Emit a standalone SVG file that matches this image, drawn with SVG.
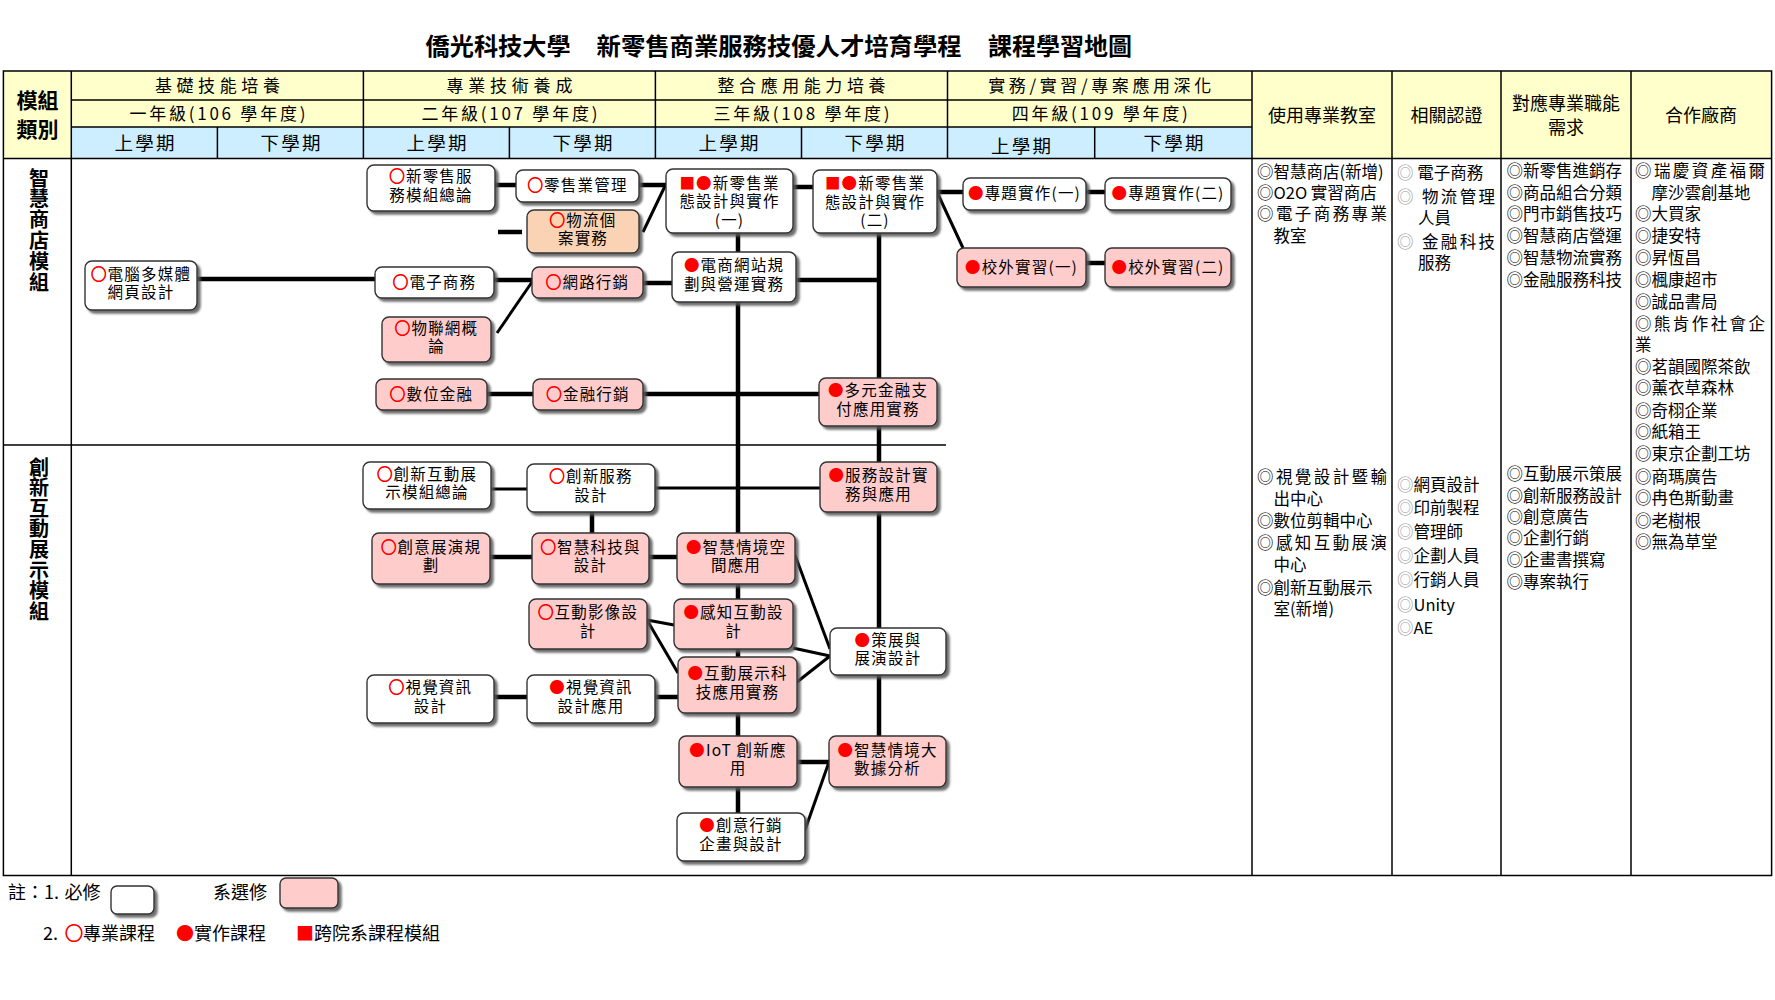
<svg xmlns="http://www.w3.org/2000/svg" width="1775" height="1000" viewBox="0 0 1775 1000">
<defs>
<style>
text{font-family:"Noto Sans CJK TC","Noto Sans CJK SC",sans-serif;fill:#000}
.ttl{font-size:24px;font-weight:bold}
.hd{font-size:17px;text-anchor:middle}
.sm{font-size:18.5px;text-anchor:middle}
.rh{font-size:18px;text-anchor:middle}
.mod{font-size:21px;font-weight:bold;text-anchor:middle}
.vt{font-size:20px;font-weight:bold;writing-mode:vertical-rl}
.rc{font-size:16.5px}
.g{fill:#9a9a9a}
.nt{font-size:15.5px;letter-spacing:1.2px;text-anchor:middle}
.r{fill:#ff0000}
.o{fill:#ff0000;stroke:#ff0000;stroke-width:0.8}
.box{stroke:#333;stroke-width:1.4;filter:url(#sh)}
.w{fill:#fff}
.p{fill:#ffcccc}
.pe{fill:#f9d3b3}
.tl{stroke:#000;stroke-width:1.5;fill:none}
.c{stroke:#000;stroke-width:4.5;fill:none}
.d{stroke:#000;stroke-width:3;fill:none}
.lg{font-size:18px}
</style>
<filter id="sh" x="-10%" y="-10%" width="130%" height="140%">
<feDropShadow dx="3" dy="3" stdDeviation="0.8" flood-color="#555" flood-opacity="0.85"/>
</filter>
</defs>
<rect width="1775" height="1000" fill="#fff"/>

<g id="title">
<text class="ttl" x="425.6" y="55" textLength="145" lengthAdjust="spacingAndGlyphs">僑光科技大學</text>
<text class="ttl" x="596.6" y="55" textLength="365" lengthAdjust="spacingAndGlyphs">新零售商業服務技優人才培育學程</text>
<text class="ttl" x="988" y="55" textLength="144" lengthAdjust="spacingAndGlyphs">課程學習地圖</text>
</g>

<g id="table">
<rect x="3.4" y="71" width="1768.2" height="87.5" fill="#ffffcc"/>
<rect x="71.3" y="127" width="1180.7" height="31.5" fill="#cceeff"/>
<rect class="tl" x="3.4" y="71" width="1768.2" height="804.5"/>
<line class="tl" x1="71.3" y1="100" x2="1252" y2="100"/>
<line class="tl" x1="71.3" y1="127" x2="1252" y2="127"/>
<line class="tl" x1="3.4" y1="158.5" x2="1771.6" y2="158.5"/>
<line class="tl" x1="71.3" y1="71" x2="71.3" y2="875.5"/>
<line class="tl" x1="363.4" y1="71" x2="363.4" y2="158.5"/>
<line class="tl" x1="655.4" y1="71" x2="655.4" y2="158.5"/>
<line class="tl" x1="947.5" y1="71" x2="947.5" y2="158.5"/>
<line class="tl" x1="217.4" y1="127" x2="217.4" y2="158.5"/>
<line class="tl" x1="509.4" y1="127" x2="509.4" y2="158.5"/>
<line class="tl" x1="801.5" y1="127" x2="801.5" y2="158.5"/>
<line class="tl" x1="1094.7" y1="127" x2="1094.7" y2="158.5"/>
<line class="tl" x1="1252" y1="71" x2="1252" y2="875.5"/>
<line class="tl" x1="1392" y1="71" x2="1392" y2="875.5"/>
<line class="tl" x1="1501" y1="71" x2="1501" y2="875.5"/>
<line class="tl" x1="1631" y1="71" x2="1631" y2="875.5"/>
<line class="tl" x1="3.4" y1="445" x2="946" y2="445"/>

<text class="mod" x="37.5" y="108">模組</text>
<text class="mod" x="37.5" y="137">類別</text>

<text class="hd" x="217.4" y="91.5" textLength="125">基礎技能培養</text>
<text class="hd" x="509.4" y="91.5" textLength="126">專業技術養成</text>
<text class="hd" x="801.5" y="91.5" textLength="168">整合應用能力培養</text>
<text class="hd" x="1099.7" y="91.5" textLength="223">實務/實習/專案應用深化</text>
<text class="hd" x="217.4" y="119.5" textLength="176">一年級(106 學年度)</text>
<text class="hd" x="509.4" y="119.5" textLength="176">二年級(107 學年度)</text>
<text class="hd" x="801.5" y="119.5" textLength="176">三年級(108 學年度)</text>
<text class="hd" x="1099.7" y="119.5" textLength="176">四年級(109 學年度)</text>
<text class="sm" x="144.4" y="149.5" textLength="60">上學期</text>
<text class="sm" x="290.4" y="149.5" textLength="60">下學期</text>
<text class="sm" x="436.4" y="149.5" textLength="60">上學期</text>
<text class="sm" x="582.4" y="149.5" textLength="60">下學期</text>
<text class="sm" x="728.5" y="149.5" textLength="60">上學期</text>
<text class="sm" x="874.5" y="149.5" textLength="60">下學期</text>
<text class="sm" x="1021" y="153" textLength="60">上學期</text>
<text class="sm" x="1173.4" y="149.5" textLength="60">下學期</text>

<text class="rh" x="1322" y="122">使用專業教室</text>
<text class="rh" x="1446.5" y="122">相關認證</text>
<text class="rh" x="1566" y="109.5">對應專業職能</text>
<text class="rh" x="1566" y="133.5">需求</text>
<text class="rh" x="1701" y="122">合作廠商</text>

<text class="vt" x="39" y="168" style="letter-spacing:0.8px">智慧商店模組</text>
<text class="vt" x="39" y="457" style="letter-spacing:0.6px">創新互動展示模組</text>
</g>

<g id="col-classroom">
<text class="rc" x="1257" y="178">◎智慧商店(新增)</text>
<text class="rc" x="1257" y="198.5">◎O2O 實習商店</text>
<text class="rc" x="1257" y="220" textLength="130" lengthAdjust="spacing">◎電子商務專業</text>
<text class="rc" x="1273.5" y="241.5">教室</text>
<text class="rc" x="1257" y="483" textLength="130" lengthAdjust="spacing">◎視覺設計暨輸</text>
<text class="rc" x="1273.5" y="504.5">出中心</text>
<text class="rc" x="1257" y="527">◎數位剪輯中心</text>
<text class="rc" x="1257" y="549" textLength="130" lengthAdjust="spacing">◎感知互動展演</text>
<text class="rc" x="1273.5" y="571">中心</text>
<text class="rc" x="1257" y="593.5">◎創新互動展示</text>
<text class="rc" x="1273.5" y="615">室(新增)</text>
</g>

<g id="col-cert">
<text class="rc" x="1397" y="178.5"><tspan class="g">◎</tspan> 電子商務</text>
<text class="rc" x="1397" y="202.5" textLength="98" lengthAdjust="spacing"><tspan class="g">◎</tspan> 物流管理</text>
<text class="rc" x="1418" y="223.5">人員</text>
<text class="rc" x="1397" y="247.5" textLength="98" lengthAdjust="spacing"><tspan class="g">◎</tspan> 金融科技</text>
<text class="rc" x="1418" y="268.5">服務</text>
<text class="rc" x="1397" y="490.5"><tspan class="g">◎</tspan>網頁設計</text>
<text class="rc" x="1397" y="514"><tspan class="g">◎</tspan>印前製程</text>
<text class="rc" x="1397" y="538"><tspan class="g">◎</tspan>管理師</text>
<text class="rc" x="1397" y="562"><tspan class="g">◎</tspan>企劃人員</text>
<text class="rc" x="1397" y="586"><tspan class="g">◎</tspan>行銷人員</text>
<text class="rc" x="1397" y="610.5"><tspan class="g">◎</tspan>Unity</text>
<text class="rc" x="1397" y="634"><tspan class="g">◎</tspan>AE</text>
</g>

<g id="col-skill">
<text class="rc" x="1506.5" y="177">◎新零售進銷存</text>
<text class="rc" x="1506.5" y="198.5">◎商品組合分類</text>
<text class="rc" x="1506.5" y="220">◎門市銷售技巧</text>
<text class="rc" x="1506.5" y="241.5">◎智慧商店營運</text>
<text class="rc" x="1506.5" y="264">◎智慧物流實務</text>
<text class="rc" x="1506.5" y="286">◎金融服務科技</text>
<text class="rc" x="1506.5" y="480">◎互動展示策展</text>
<text class="rc" x="1506.5" y="502">◎創新服務設計</text>
<text class="rc" x="1506.5" y="523">◎創意廣告</text>
<text class="rc" x="1506.5" y="544">◎企劃行銷</text>
<text class="rc" x="1506.5" y="566">◎企畫書撰寫</text>
<text class="rc" x="1506.5" y="588">◎專案執行</text>
</g>

<g id="col-partner">
<text class="rc" x="1635" y="177" textLength="130" lengthAdjust="spacing">◎瑞慶資產福爾</text>
<text class="rc" x="1651.5" y="198.5">摩沙雲創基地</text>
<text class="rc" x="1635" y="220">◎大買家</text>
<text class="rc" x="1635" y="241.5">◎捷安特</text>
<text class="rc" x="1635" y="264">◎昇恆昌</text>
<text class="rc" x="1635" y="286">◎楓康超市</text>
<text class="rc" x="1635" y="308">◎誠品書局</text>
<text class="rc" x="1635" y="330" textLength="130" lengthAdjust="spacing">◎熊肯作社會企</text>
<text class="rc" x="1635" y="351">業</text>
<text class="rc" x="1635" y="373">◎茗韻國際茶飲</text>
<text class="rc" x="1635" y="394">◎薰衣草森林</text>
<text class="rc" x="1635" y="417">◎奇栩企業</text>
<text class="rc" x="1635" y="438">◎紙箱王</text>
<text class="rc" x="1635" y="460">◎東京企劃工坊</text>
<text class="rc" x="1635" y="483">◎商瑪廣告</text>
<text class="rc" x="1635" y="504">◎冉色斯動畫</text>
<text class="rc" x="1635" y="527">◎老樹根</text>
<text class="rc" x="1635" y="548">◎無為草堂</text>
</g>

<g id="connectors">
<line class="c" x1="197" y1="279" x2="375" y2="279"/>
<line class="c" x1="495" y1="185" x2="516" y2="185"/>
<line class="c" x1="639" y1="185" x2="666" y2="185"/>
<line class="c" x1="498" y1="232" x2="522" y2="232"/>
<line class="c" x1="793" y1="187" x2="813" y2="187"/>
<line class="c" x1="494" y1="280" x2="532" y2="280"/>
<line class="c" x1="643" y1="283" x2="672" y2="283"/>
<line class="c" x1="796" y1="280" x2="879" y2="280"/>
<line class="c" x1="487" y1="394" x2="533" y2="394"/>
<line class="c" x1="643" y1="394" x2="819" y2="394"/>
<line class="c" x1="738" y1="233" x2="738" y2="252"/>
<line class="c" x1="738" y1="302" x2="738" y2="533"/>
<line class="c" x1="738" y1="584" x2="738" y2="599"/>
<line class="c" x1="738" y1="649" x2="738" y2="657"/>
<line class="c" x1="738" y1="713" x2="738" y2="736"/>
<line class="c" x1="738" y1="787" x2="738" y2="813"/>
<line class="c" x1="879" y1="233" x2="879" y2="378"/>
<line class="c" x1="879" y1="426" x2="879" y2="462"/>
<line class="c" x1="879" y1="512" x2="879" y2="628"/>
<line class="c" x1="879" y1="675" x2="879" y2="736"/>
<line class="c" x1="937" y1="192" x2="963" y2="192"/>
<line class="c" x1="1086" y1="192" x2="1105" y2="192"/>
<line class="c" x1="1086" y1="263" x2="1105" y2="263"/>
<line class="c" x1="592" y1="512" x2="592" y2="533"/>
<line class="c" x1="490" y1="557" x2="532" y2="557"/>
<line class="c" x1="649" y1="557" x2="677" y2="557"/>
<line class="c" x1="494" y1="697" x2="527" y2="697"/>
<line class="c" x1="655" y1="697" x2="678" y2="697"/>
<line class="c" x1="797" y1="762" x2="829" y2="762"/>
<line class="d" x1="643" y1="232" x2="666" y2="184"/>
<line class="d" x1="497" y1="333" x2="532" y2="282"/>
<line class="d" x1="937" y1="192" x2="963" y2="248"/>
<line class="d" x1="491" y1="489" x2="527" y2="489"/>
<line class="d" x1="655" y1="488" x2="820" y2="488"/>
<line class="d" x1="647" y1="620" x2="674" y2="625"/>
<line class="d" x1="647" y1="620" x2="678" y2="673"/>
<line class="d" x1="795" y1="555" x2="830" y2="649"/>
<line class="d" x1="793" y1="648" x2="830" y2="656"/>
<line class="d" x1="797" y1="682" x2="830" y2="656"/>
<line class="d" x1="805" y1="830" x2="829" y2="762"/>
</g>

<g id="n01"><rect class="box w" x="85" y="261" width="112" height="49" rx="7"/><text class="nt"><tspan x="141" y="279.8"><tspan class="o">○</tspan>電腦多媒體</tspan><tspan x="141" y="298.4">網頁設計</tspan></text></g>
<g id="n02"><rect class="box w" x="367" y="165" width="128" height="46" rx="7"/><text class="nt"><tspan x="431" y="182.3"><tspan class="o">○</tspan>新零售服</tspan><tspan x="431" y="200.9">務模組總論</tspan></text></g>
<g id="n03"><rect class="box w" x="516" y="170" width="123" height="32" rx="7"/><text class="nt"><tspan x="577.5" y="191.3"><tspan class="o">○</tspan>零售業管理</tspan></text></g>
<g id="n04"><rect class="box pe" x="527" y="210" width="112" height="43" rx="7"/><text class="nt"><tspan x="583" y="225.8"><tspan class="o">○</tspan>物流個</tspan><tspan x="583" y="244.4">案實務</tspan></text></g>
<g id="n05"><rect class="box w" x="375" y="267" width="119" height="31" rx="7"/><text class="nt"><tspan x="434.5" y="287.8"><tspan class="o">○</tspan>電子商務</tspan></text></g>
<g id="n06"><rect class="box p" x="532" y="267" width="111" height="31" rx="7"/><text class="nt"><tspan x="587.5" y="287.8"><tspan class="o">○</tspan>網路行銷</tspan></text></g>
<g id="n07"><rect class="box p" x="382" y="317" width="109" height="45" rx="7"/><text class="nt"><tspan x="436.5" y="333.8"><tspan class="o">○</tspan>物聯網概</tspan><tspan x="436.5" y="352.4">論</tspan></text></g>
<g id="n08"><rect class="box p" x="376" y="379" width="111" height="31" rx="7"/><text class="nt"><tspan x="431.5" y="399.8"><tspan class="o">○</tspan>數位金融</tspan></text></g>
<g id="n09"><rect class="box p" x="533" y="379" width="110" height="31" rx="7"/><text class="nt"><tspan x="588" y="399.8"><tspan class="o">○</tspan>金融行銷</tspan></text></g>
<g id="n10"><rect class="box w" x="666" y="169" width="127" height="64" rx="7"/><text class="nt"><tspan x="729.5" y="188.7"><tspan class="r">■●</tspan>新零售業</tspan><tspan x="729.5" y="207.3">態設計與實作</tspan><tspan x="729.5" y="225.9">(一)</tspan></text></g>
<g id="n11"><rect class="box w" x="813" y="170" width="124" height="63" rx="7"/><text class="nt"><tspan x="875" y="189.2"><tspan class="r">■●</tspan>新零售業</tspan><tspan x="875" y="207.8">態設計與實作</tspan><tspan x="875" y="226.4">(二)</tspan></text></g>
<g id="n12"><rect class="box w" x="672" y="252" width="124" height="50" rx="7"/><text class="nt"><tspan x="734" y="271.3"><tspan class="r">●</tspan>電商網站規</tspan><tspan x="734" y="289.9">劃與營運實務</tspan></text></g>
<g id="n13"><rect class="box p" x="819" y="378" width="118" height="48" rx="7"/><text class="nt"><tspan x="878" y="396.3"><tspan class="r">●</tspan>多元金融支</tspan><tspan x="878" y="414.9">付應用實務</tspan></text></g>
<g id="n14"><rect class="box w" x="963" y="178" width="123" height="32" rx="7"/><text class="nt"><tspan x="1024.5" y="199.3"><tspan class="r">●</tspan>專題實作(一)</tspan></text></g>
<g id="n15"><rect class="box w" x="1105" y="178" width="126" height="32" rx="7"/><text class="nt"><tspan x="1168" y="199.3"><tspan class="r">●</tspan>專題實作(二)</tspan></text></g>
<g id="n16"><rect class="box p" x="957" y="248" width="129" height="39" rx="7"/><text class="nt"><tspan x="1021.5" y="272.8"><tspan class="r">●</tspan>校外實習(一)</tspan></text></g>
<g id="n17"><rect class="box p" x="1105" y="248" width="126" height="39" rx="7"/><text class="nt"><tspan x="1168" y="272.8"><tspan class="r">●</tspan>校外實習(二)</tspan></text></g>
<g id="n18"><rect class="box w" x="363" y="462" width="128" height="47" rx="7"/><text class="nt"><tspan x="427" y="479.8"><tspan class="o">○</tspan>創新互動展</tspan><tspan x="427" y="498.4">示模組總論</tspan></text></g>
<g id="n19"><rect class="box w" x="527" y="464" width="128" height="48" rx="7"/><text class="nt"><tspan x="591" y="482.3"><tspan class="o">○</tspan>創新服務</tspan><tspan x="591" y="500.9">設計</tspan></text></g>
<g id="n20"><rect class="box p" x="820" y="462" width="117" height="50" rx="7"/><text class="nt"><tspan x="878.5" y="481.3"><tspan class="r">●</tspan>服務設計實</tspan><tspan x="878.5" y="499.9">務與應用</tspan></text></g>
<g id="n21"><rect class="box p" x="372" y="533" width="118" height="51" rx="7"/><text class="nt"><tspan x="431" y="552.8"><tspan class="o">○</tspan>創意展演規</tspan><tspan x="431" y="571.4">劃</tspan></text></g>
<g id="n22"><rect class="box p" x="532" y="533" width="117" height="51" rx="7"/><text class="nt"><tspan x="590.5" y="552.8"><tspan class="o">○</tspan>智慧科技與</tspan><tspan x="590.5" y="571.4">設計</tspan></text></g>
<g id="n23"><rect class="box p" x="677" y="533" width="118" height="51" rx="7"/><text class="nt"><tspan x="736" y="552.8"><tspan class="r">●</tspan>智慧情境空</tspan><tspan x="736" y="571.4">間應用</tspan></text></g>
<g id="n24"><rect class="box p" x="529" y="599" width="118" height="50" rx="7"/><text class="nt"><tspan x="588" y="618.3"><tspan class="o">○</tspan>互動影像設</tspan><tspan x="588" y="636.9">計</tspan></text></g>
<g id="n25"><rect class="box p" x="674" y="599" width="119" height="50" rx="7"/><text class="nt"><tspan x="733.5" y="618.3"><tspan class="r">●</tspan>感知互動設</tspan><tspan x="733.5" y="636.9">計</tspan></text></g>
<g id="n26"><rect class="box w" x="830" y="628" width="116" height="47" rx="7"/><text class="nt"><tspan x="888" y="645.8"><tspan class="r">●</tspan>策展與</tspan><tspan x="888" y="664.4">展演設計</tspan></text></g>
<g id="n27"><rect class="box p" x="678" y="657" width="119" height="56" rx="7"/><text class="nt"><tspan x="737.5" y="679.3"><tspan class="r">●</tspan>互動展示科</tspan><tspan x="737.5" y="697.9">技應用實務</tspan></text></g>
<g id="n28"><rect class="box w" x="367" y="675" width="127" height="48" rx="7"/><text class="nt"><tspan x="430.5" y="693.3"><tspan class="o">○</tspan>視覺資訊</tspan><tspan x="430.5" y="711.9">設計</tspan></text></g>
<g id="n29"><rect class="box w" x="527" y="675" width="128" height="48" rx="7"/><text class="nt"><tspan x="591" y="693.3"><tspan class="r">●</tspan>視覺資訊</tspan><tspan x="591" y="711.9">設計應用</tspan></text></g>
<g id="n30"><rect class="box p" x="679" y="736" width="118" height="51" rx="7"/><text class="nt"><tspan x="738" y="755.8"><tspan class="r">●</tspan>IoT 創新應</tspan><tspan x="738" y="774.4">用</tspan></text></g>
<g id="n31"><rect class="box p" x="829" y="736" width="117" height="51" rx="7"/><text class="nt"><tspan x="887.5" y="755.8"><tspan class="r">●</tspan>智慧情境大</tspan><tspan x="887.5" y="774.4">數據分析</tspan></text></g>
<g id="n32"><rect class="box w" x="677" y="813" width="128" height="48" rx="7"/><text class="nt"><tspan x="741" y="831.3"><tspan class="r">●</tspan>創意行銷</tspan><tspan x="741" y="849.9">企畫與設計</tspan></text></g>

<g id="legend">
<text class="lg" x="8" y="899">註：1.</text>
<text class="lg" x="64.5" y="899">必修</text>
<rect class="box w" x="111" y="886" width="43" height="28" rx="6"/>
<text class="lg" x="213" y="899">系選修</text>
<rect class="box p" x="280" y="878" width="58" height="30" rx="6"/>
<text class="lg" x="43" y="940">2.</text>
<text class="lg" x="65" y="940"><tspan class="o">○</tspan>專業課程</text>
<text class="lg" x="176" y="940"><tspan class="r">●</tspan>實作課程</text>
<text class="lg" x="296" y="940"><tspan class="r">■</tspan>跨院系課程模組</text>
</g>
</svg>
